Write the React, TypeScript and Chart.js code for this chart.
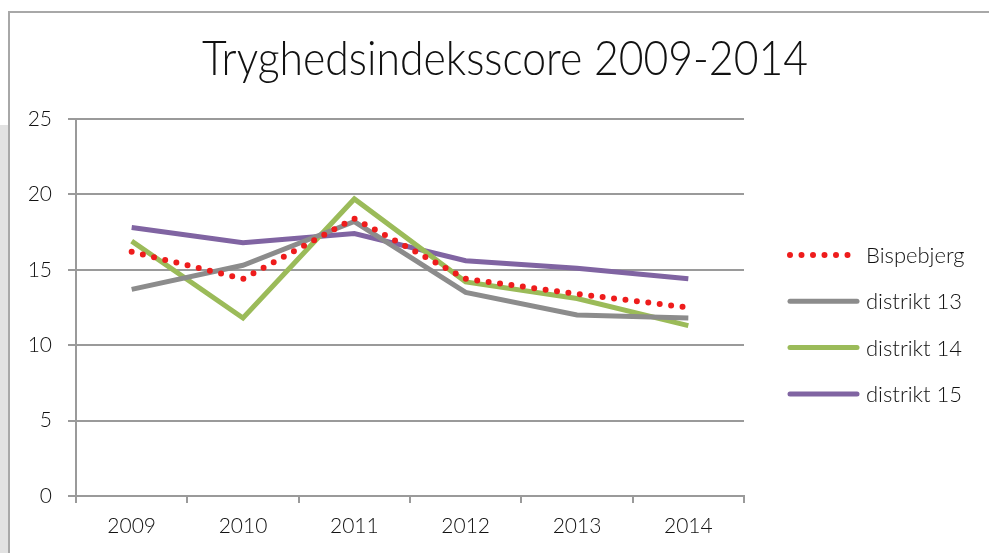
import React, { useEffect, useRef } from "react";
import { Chart, registerables } from "chart.js";

Chart.register(...registerables);

const TITLE = "Tryghedsindeksscore 2009-2014";
const years = ["2009", "2010", "2011", "2012", "2013", "2014"];
const bispebjerg = [16.2, 14.4, 18.4, 14.4, 13.4, 12.5];
const distrikt13 = [13.7, 15.3, 18.2, 13.5, 12.0, 11.8];
const distrikt14 = [16.9, 11.8, 19.7, 14.2, 13.1, 11.3];
const distrikt15 = [17.8, 16.8, 17.4, 15.6, 15.1, 14.4];
const seriesNames = ["Bispebjerg", "distrikt 13", "distrikt 14", "distrikt 15"];
const seriesColors = ["#ee1c1c", "#8c8c8c", "#9bbb59", "#8064a2"];
const yMin = 0;
const yMax = 25;
const yStep = 5;

const FONT = "Lato, 'Open Sans', sans-serif";
const AXIS_GRAY = "#9a9a9a";

const decorPlugin = {
  id: "decor",
  beforeDraw(chart: any) {
    const ctx = chart.ctx;
    const w = chart.width;
    const h = chart.height;
    ctx.save();
    ctx.fillStyle = "#ffffff";
    ctx.fillRect(0, 0, w, h);
    ctx.fillStyle = "#e2e2e2";
    ctx.fillRect(0, 125, 8, h - 125);
    ctx.strokeStyle = "#a8a8a8";
    ctx.lineWidth = 2;
    ctx.beginPath();
    ctx.moveTo(9, h);
    ctx.lineTo(9, 12);
    ctx.lineTo(w, 12);
    ctx.stroke();
    ctx.restore();
  },
  afterDraw(chart: any) {
    const ctx = chart.ctx;
    ctx.save();
    // title (horizontally condensed to match the narrow original face)
    ctx.fillStyle = "#111";
    ctx.font = `300 47px ${FONT}`;
    ctx.textAlign = "center";
    ctx.textBaseline = "alphabetic";
    const tw = ctx.measureText(TITLE).width;
    const sx = Math.min(1, 606 / tw);
    ctx.save();
    ctx.translate(505, 75);
    ctx.scale(sx, 1);
    ctx.fillText(TITLE, 0, 0);
    ctx.restore();
    // legend
    ctx.font = `300 22px ${FONT}`;
    ctx.textAlign = "left";
    ctx.textBaseline = "middle";
    chart.data.datasets.forEach((ds: any, i: number) => {
      const y = 255 + i * 46.3;
      ctx.save();
      ctx.strokeStyle = ds.borderColor;
      ctx.lineWidth = ds.borderWidth;
      ctx.lineCap = "round";
      ctx.setLineDash(ds.borderDash || []);
      ctx.beginPath();
      ctx.moveTo(790, y);
      ctx.lineTo(857, y);
      ctx.stroke();
      ctx.restore();
      ctx.fillStyle = "#111";
      ctx.fillText(ds.label, 866, y + 1);
    });
    ctx.restore();
  },
};

export default function App() {
  const ref = useRef<HTMLCanvasElement | null>(null);

  useEffect(() => {
    if (!ref.current) return;
    const mk = (i: number, data: number[], dash?: number[]) => ({
      label: seriesNames[i],
      data,
      borderColor: seriesColors[i],
      backgroundColor: seriesColors[i],
      borderWidth: dash ? 6 : 5,
      borderDash: dash,
      borderCapStyle: dash ? "round" : "butt",
      pointRadius: 0,
      tension: 0,
      fill: false,
    });
    const chart = new Chart(ref.current, {
      type: "line",
      data: {
        labels: years,
        datasets: [
          mk(0, bispebjerg, [0, 11.5]),
          mk(1, distrikt13),
          mk(2, distrikt14),
          mk(3, distrikt15),
        ] as any,
      },
      options: {
        animation: false,
        responsive: false,
        devicePixelRatio: 1,
        layout: { padding: { top: 119, right: 245, bottom: 0, left: 0 } },
        plugins: {
          legend: { display: false },
          title: { display: false },
          tooltip: { enabled: false },
        },
        scales: {
          x: {
            type: "category",
            offset: true,
            afterFit: (s: any) => {
              s.height = 57;
            },
            grid: {
              offset: true,
              drawOnChartArea: false,
              drawTicks: true,
              tickLength: 7,
              color: AXIS_GRAY,
              lineWidth: 2,
            },
            border: { display: true, color: AXIS_GRAY, width: 2 },
            ticks: {
              padding: 11,
              maxRotation: 0,
              color: "#111",
              font: { family: FONT, size: 21, weight: "300" as any },
            },
          },
          y: {
            min: yMin,
            max: yMax,
            afterFit: (s: any) => {
              s.width = 76;
            },
            grid: {
              color: AXIS_GRAY,
              lineWidth: 2,
              tickLength: 8,
              drawTicks: true,
            },
            border: { display: true, color: AXIS_GRAY, width: 2 },
            ticks: {
              stepSize: yStep,
              padding: 16,
              color: "#111",
              font: { family: FONT, size: 21, weight: "300" as any },
            },
          },
        },
      },
      plugins: [decorPlugin],
    } as any);
    return () => chart.destroy();
  }, []);

  return (
    <div style={{ position: "fixed", left: 0, top: 0, width: 989, height: 553 }}>
      <canvas ref={ref} width={989} height={553} style={{ display: "block" }} />
    </div>
  );
}
